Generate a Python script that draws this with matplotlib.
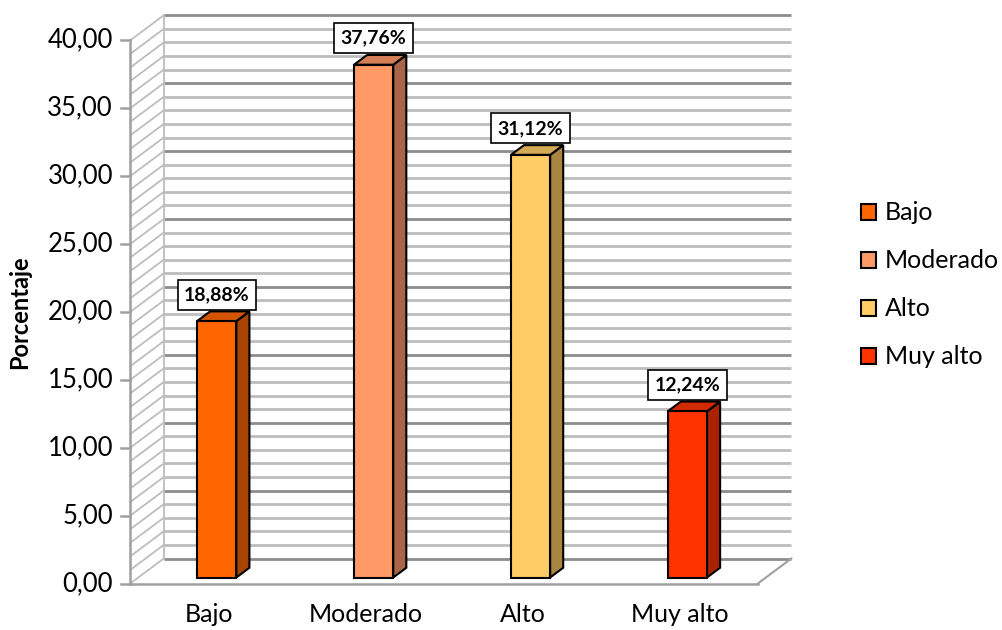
import matplotlib
matplotlib.use("Agg")
import matplotlib.pyplot as plt
from matplotlib.patches import Polygon, Patch

categories = ["Bajo", "Moderado", "Alto", "Muy alto"]
values = [18.88, 37.76, 31.12, 12.24]
value_labels = ["18,88%", "37,76%", "31,12%", "12,24%"]
front_colors = ["#FF6600", "#FF9966", "#FFCC66", "#FF3300"]
side_colors = ["#A84300", "#A8654A", "#A88640", "#A82200"]
top_colors = ["#D45500", "#D47F55", "#D4AA55", "#D42A00"]
yticks = [0, 5, 10, 15, 20, 25, 30, 35, 40]
ytick_labels = ["0,00", "5,00", "10,00", "15,00", "20,00", "25,00", "30,00", "35,00", "40,00"]
ylabel = "Porcentaje"

plt.rcParams['font.family'] = ['Lato', 'DejaVu Sans']

W, H = 1003, 630
fig = plt.figure(figsize=(W / 100, H / 100), dpi=100)
ax = fig.add_axes([0, 0, 1, 1])
ax.axis("off")

px_x = 156.9   # pixels per category
px_y = 13.58   # pixels per unit
x0 = 208.7     # pixel of category 0 (front plane)
y0 = 583.5     # pixel (from top) of value 0 (front plane)
ax.set_xlim(-x0 / px_x, (W - x0) / px_x)
ax.set_ylim(-(H - y0) / px_y, y0 / px_y)

DX = 33.5 / px_x
DY = 25.0 / px_y
xl, xr = -0.5, 3.5
ymax = 40

minor_c = "#bdbdbd"
major_c = "#8c8c8c"

# back wall gridlines and left wall diagonals
for v in range(0, ymax + 1):
    major = (v % 5 == 0)
    ax.plot([xl + DX, xr + DX], [v + DY, v + DY],
            color=major_c if major else minor_c, lw=2.0, solid_capstyle="butt", zorder=1)
    ax.plot([xl, xl + DX], [v, v + DY], color=minor_c, lw=1.3, zorder=1)

# walls edges
ax.plot([xl + DX, xl + DX], [DY, ymax + DY], color=minor_c, lw=1.3, zorder=1)
ax.plot([xl, xl], [0, ymax], color="#a0a0a0", lw=1.8, zorder=2)
# floor
ax.plot([xl, xr], [0, 0], color="#a0a0a0", lw=1.8, zorder=2)
ax.plot([xr, xr + DX], [0, DY], color="#a0a0a0", lw=1.5, zorder=2)

# ticks and labels
for t, lab in zip(yticks, ytick_labels):
    ax.plot([xl - 0.057, xl], [t, t], color="#a0a0a0", lw=1.8, zorder=2)
    ax.text(xl - 0.11, t, lab, ha="right", va="center", fontsize=18.5, color="black")

ax.text(-1.203, 20.0, ylabel, rotation=90, ha="center", va="center",
        fontsize=17, fontweight="bold")

# bars
d0, d1 = 0.24, 0.63
w = 0.125
for i, (v, fc, sc, tc, lab) in enumerate(zip(values, front_colors, side_colors, top_colors, value_labels)):
    bx = i + d0 * DX
    by = d0 * DY
    ex = (d1 - d0) * DX
    ey = (d1 - d0) * DY
    side = Polygon([(bx + w, by), (bx + w + ex, by + ey), (bx + w + ex, by + ey + v), (bx + w, by + v)],
                   closed=True, facecolor=sc, edgecolor="black", lw=1.5, zorder=5)
    top = Polygon([(bx - w, by + v), (bx + w, by + v), (bx + w + ex, by + ey + v), (bx - w + ex, by + ey + v)],
                  closed=True, facecolor=tc, edgecolor="black", lw=1.5, zorder=5)
    front = Polygon([(bx - w, by), (bx + w, by), (bx + w, by + v), (bx - w, by + v)],
                    closed=True, facecolor=fc, edgecolor="black", lw=1.5, zorder=6)
    ax.add_patch(side)
    ax.add_patch(top)
    ax.add_patch(front)
    ax.text(bx, by + v + 1.95, lab, ha="center", va="center", fontsize=14, fontweight="bold",
            zorder=8, bbox=dict(boxstyle="square,pad=0.33", facecolor="white", edgecolor="black", lw=1.2))
    ax.text(i, -2.3, categories[i], ha="center", va="center", fontsize=18)

handles = [Patch(facecolor=c, edgecolor="black", lw=1.5) for c in front_colors]
fig.legend(handles, categories, loc="center left", bbox_to_anchor=(861 / W, 1 - 285 / H),
           frameon=False, fontsize=18, handlelength=0.6, handleheight=0.6,
           handletextpad=0.35, labelspacing=1.0, borderaxespad=0, borderpad=0)

fig.savefig("out.png", dpi=100)
